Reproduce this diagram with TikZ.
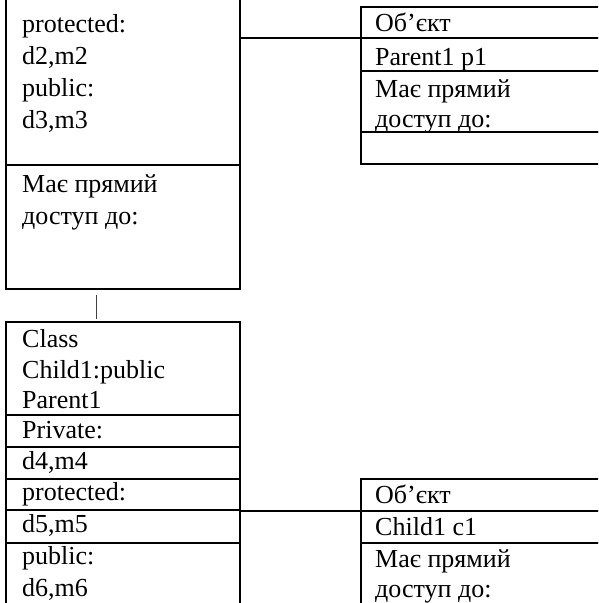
\documentclass[tikz,border=0pt]{standalone}
\usepackage{fontspec}
\setmainfont{Liberation Serif}
\begin{document}
\begin{tikzpicture}[x=1pt,y=-1pt,
  cell/.style={draw,line width=2.4pt,rectangle,anchor=north west,inner sep=0pt,outer sep=0pt},
  txt/.style={anchor=base west,inner sep=0pt,font=\fontsize{26}{32}\selectfont},
  link/.style={line width=2.4pt},
  thin/.style={line width=1pt,draw=black!75}]
\useasboundingbox (0,0) rectangle (598,603);
\clip (0,0) rectangle (598,603);
% Parent1 class box (top-left, clipped at the top)
\node[cell,minimum width=234pt,minimum height=185pt] (pa) at (6,-20) {};
\node[cell,minimum width=234pt,minimum height=124pt] (pb) at (6,165) {};
\node[txt] (pt1) at (22,32) {protected:};
\node[txt] (pt2) at (22,64) {d2,m2};
\node[txt] (pt3) at (22,96) {public:};
\node[txt] (pt4) at (22,128) {d3,m3};
\node[txt] (pt5) at (22,192) {Має прямий};
\node[txt] (pt6) at (22,224) {доступ до:};
% object p1 (top-right)
\node[cell,minimum width=259pt,minimum height=31pt] (oa) at (361,7) {};
\node[cell,minimum width=259pt,minimum height=33pt] (ob) at (361,38) {};
\node[cell,minimum width=259pt,minimum height=61pt] (oc) at (361,71) {};
\node[cell,minimum width=259pt,minimum height=32pt] (od) at (361,132) {};
\node[txt] (ot1) at (375,31) {Об’єкт};
\node[txt] (ot2) at (375,65) {Parent1 p1};
\node[txt] (ot3) at (375,97) {Має прямий};
\node[txt] (ot4) at (375,127) {доступ до:};
% link class -> object
\draw[link] (oa.south west -| pa.east) -- (oa.south west);
% inheritance tick
\coordinate (t1) at (96,295);
\coordinate (t2) at (96,319);
\draw[thin] (t1) -- (t2);
% Child1 class box
\node[cell,minimum width=234pt,minimum height=93pt] (ca) at (6,322) {};
\node[cell,minimum width=234pt,minimum height=32pt] (cb) at (6,415) {};
\node[cell,minimum width=234pt,minimum height=32pt] (cc) at (6,447) {};
\node[cell,minimum width=234pt,minimum height=31pt] (cd) at (6,479) {};
\node[cell,minimum width=234pt,minimum height=33pt] (ce) at (6,510) {};
\node[cell,minimum width=234pt,minimum height=77pt] (cf) at (6,543) {};
\node[txt] (ct1) at (22,347) {Class};
\node[txt] (ct2) at (22,378) {Child1:public};
\node[txt] (ct3) at (22,408) {Parent1};
\node[txt] (ct4) at (22,438) {Private:};
\node[txt] (ct5) at (22,469) {d4,m4};
\node[txt] (ct6) at (22,500) {protected:};
\node[txt] (ct7) at (22,532) {d5,m5};
\node[txt] (ct8) at (22,564) {public:};
\node[txt] (ct9) at (22,596) {d6,m6};
% object c1 (bottom-right)
\node[cell,minimum width=259pt,minimum height=32pt] (qa) at (361,479) {};
\node[cell,minimum width=259pt,minimum height=32pt] (qb) at (361,511) {};
\node[cell,minimum width=259pt,minimum height=77pt] (qc) at (361,543) {};
\node[txt] (qt1) at (375,503) {Об’єкт};
\node[txt] (qt2) at (375,535) {Child1 c1};
\node[txt] (qt3) at (375,567) {Має прямий};
\node[txt] (qt4) at (375,597) {доступ до:};
% link class -> object
\draw[link] (qa.south west -| cd.east) -- (qa.south west);
\end{tikzpicture}
\end{document}
